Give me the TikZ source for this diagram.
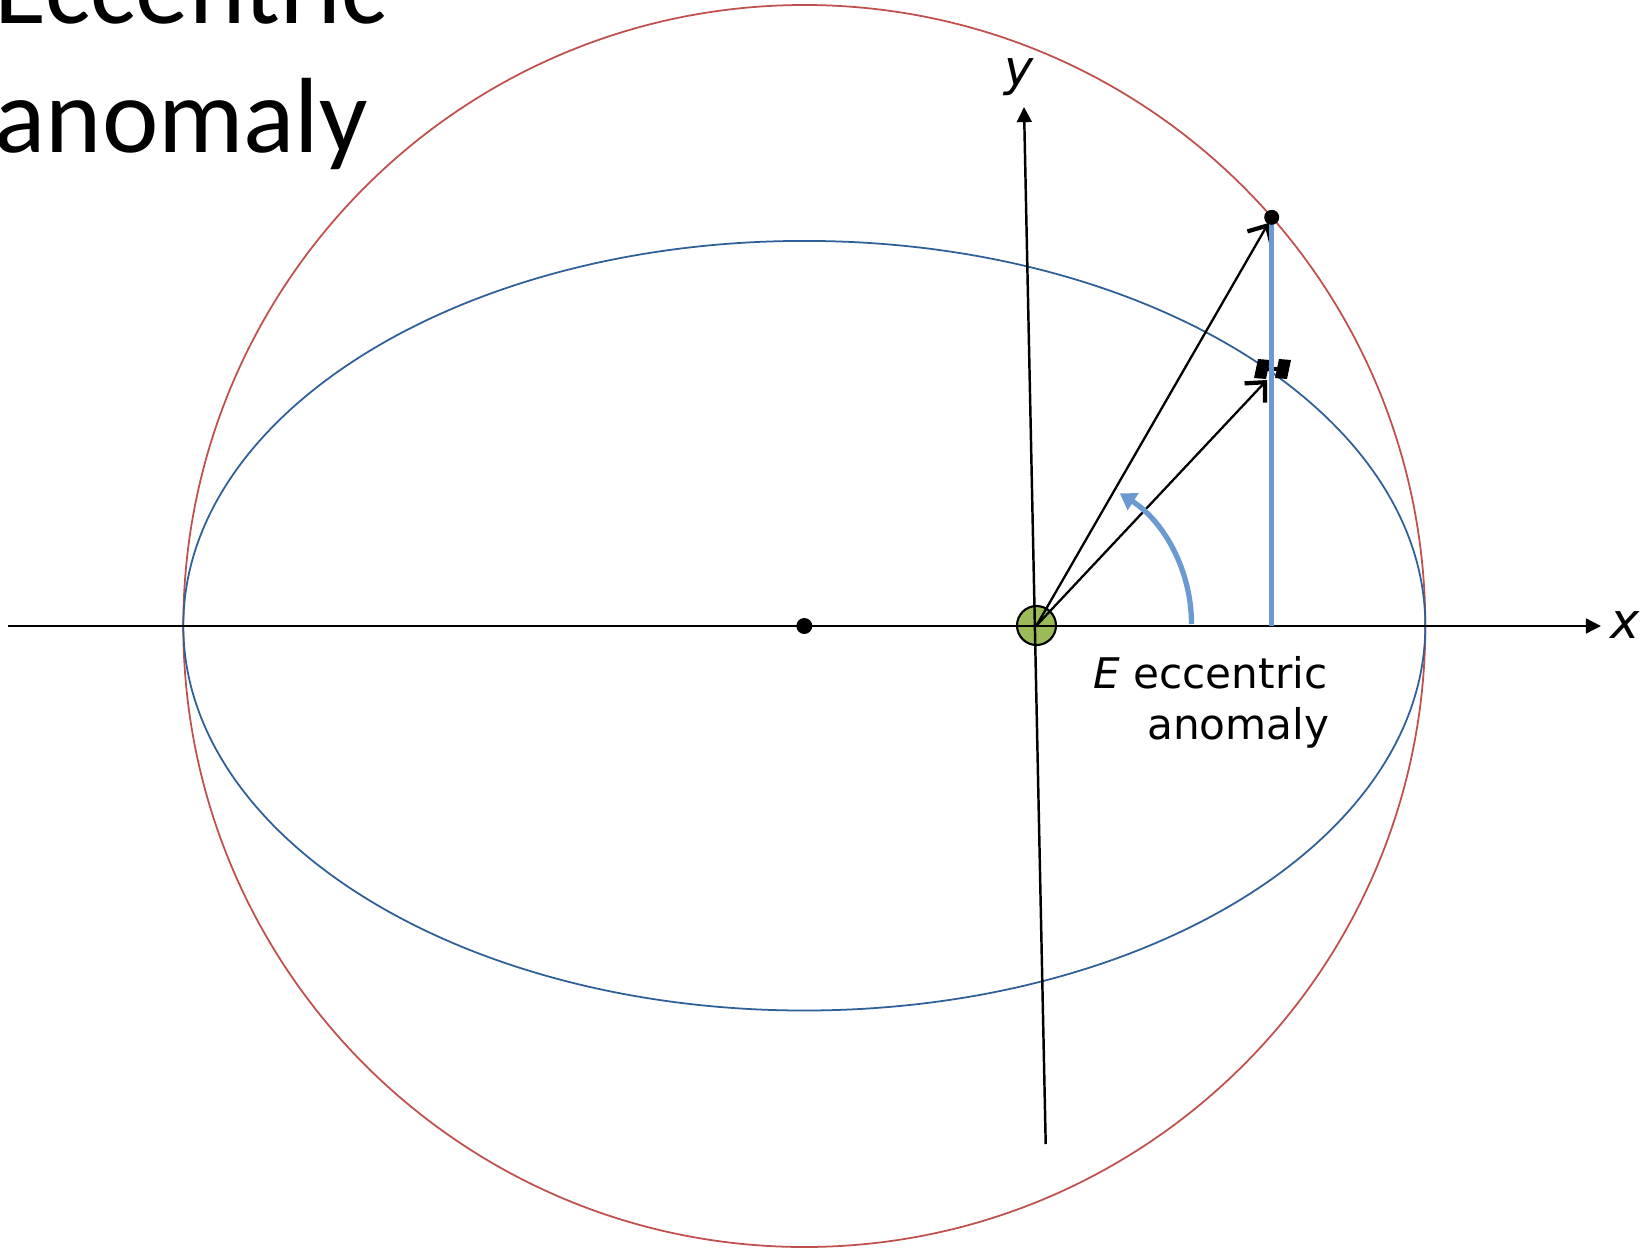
\documentclass[tikz,border=0pt]{standalone}
\usepackage{fontspec}
\setmainfont{DejaVu Sans}
\newfontfamily\titlefont{Carlito}
\usetikzlibrary{arrows.meta}
\definecolor{orbitred}{HTML}{C0504D}
\definecolor{orbitblue}{HTML}{2F5F98}
\definecolor{lightblue}{HTML}{6A9AD0}
\definecolor{focusgreen}{HTML}{9BBB59}
\tikzset{
  axisline/.style={line width=0.7pt,-{Triangle[length=4.3pt,width=4.2pt]}},
  radline/.style={line width=0.65pt,-{Straight Barb[length=4.2pt,width=8pt,line width=1.2pt]}},
  labeltext/.style={inner sep=0pt,font=\fontsize{12}{14}\selectfont},
  titletext/.style={inner sep=0pt,anchor=base west,font=\titlefont\fontsize{30.4}{36}\selectfont},
}
\begin{document}
\begin{tikzpicture}[x=0.01cm,y=-0.01cm]
\useasboundingbox (0,0) rectangle (1642,1251);
\clip (0,0) rectangle (1642,1251);
\fill[white] (0,0) rectangle (1642,1251);
% key points
\coordinate (C) at (804.3,626);
\coordinate (F) at (1036.5,625.5);
\coordinate (P) at (1271.7,217.3);
\coordinate (Sa) at (1267,380);
\coordinate (Pa) at (1268.5,223);
\coordinate (Foot) at (1271.7,626);
\coordinate (xs) at (8.4,626);
\coordinate (xe) at (1601,626);
\coordinate (ys) at (1045.7,1144);
\coordinate (ye) at (1024,107);
% title
\node[titletext] (t1) at (-6,23) {Eccentric};
\node[titletext] (t2) at (-6,152) {anomaly};
% circle and ellipse
\draw[orbitred,line width=0.5pt] (C) circle [radius=621];
\draw[orbitblue,line width=0.5pt] (804.3,625.7) ellipse [x radius=621, y radius=384.8];
% focus body
\draw[fill=focusgreen,line width=0.6pt] (F) circle [radius=19.5];
% axes
\draw[axisline] (xs) -- (xe);
\draw[axisline] (ys) -- (ye);
\node[labeltext,font=\fontsize{14}{16}\selectfont\itshape] (xl) at (1625,625) {x};
\node[labeltext,font=\fontsize{14}{16}\selectfont\itshape] (yl) at (1019,77) {y};
% centre dot
\fill (C) circle [radius=8];
% radius vectors
\draw[radline] (F) -- (Pa);
\draw[radline] (F) -- (Sa);
% satellite
\fill (1258,359) -- (1270,360) -- (1266,379) -- (1254,378) -- cycle;
\fill (1279,359) -- (1291,360) -- (1287,379) -- (1275,378) -- cycle;
\draw[line width=1.2pt] (1266,369) -- (1279,369);
% projection line
\draw[lightblue,line width=1.3pt] (P) -- (Foot);
\fill (P) circle [radius=7.5];
% angle arc
\draw[lightblue,line width=1.5pt,-{Triangle[length=4.5pt,width=5.5pt]}] (1191.5,624) arc [start angle=0,end angle=-57.5,radius=155];
% label
\node[labeltext,anchor=base east] (l1) at (1328,688) {\textit{E} eccentric};
\node[labeltext,anchor=base east] (l2) at (1330,739) {anomaly};
\end{tikzpicture}
\end{document}
